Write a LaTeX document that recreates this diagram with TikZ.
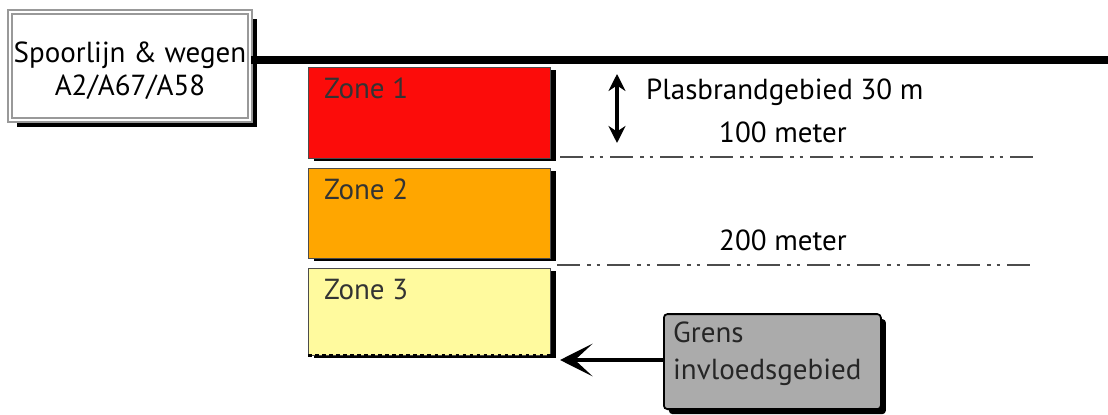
\documentclass[tikz,border=0pt]{standalone}
\usepackage{fontspec}
\setmainfont{PT Sans}
\usetikzlibrary{arrows.meta,shadows}
\definecolor{zonered}{RGB}{252,12,10}
\definecolor{zoneorange}{RGB}{255,166,0}
\definecolor{zoneyellow}{RGB}{255,250,158}

\begin{document}
\begin{tikzpicture}[font=\fontsize{16.5}{19}\selectfont,
  zone/.style={draw=black!70,anchor=north west,inner sep=0,minimum width=4.84cm,
    drop shadow={shadow xshift=0.12cm,shadow yshift=-0.06cm,opacity=1,fill=black}},
  zonelabel/.style={anchor=north west,text=black!80},
  grid/.style={black!70,line width=1.2pt,
    dash pattern=on 0.46cm off 0.14cm on 0.07cm off 0.12cm on 0.07cm off 0.14cm}]
  \useasboundingbox (0,0) rectangle (22.16,8.28);
  % road / rail box
  \node[draw=gray!80,double=white,double distance=1pt,line width=1pt,fill=white,
    minimum width=4.8cm,minimum height=2.16cm,align=center,inner sep=1pt,
    drop shadow={shadow xshift=0.14cm,shadow yshift=-0.14cm,opacity=1,fill=black}]
    (road) at (2.6,6.96) {};
  \node[align=center,inner sep=0] (roadtxt) at ([yshift=-0.1cm]road.center) {Spoorlijn \& wegen\\A2/A67/A58};
  % zones
  \node[zone,fill=zonered,minimum height=1.82cm] (z1) at (6.16,6.94) {};
  \node[zone,fill=zoneorange,minimum height=1.8cm] (z2) at (6.16,4.92) {};
  \node[zone,fill=zoneyellow,minimum height=1.74cm] (z3) at (6.16,2.92) {};
  \draw[line width=2pt,dotted] (z3.south west) -- (z3.south east);
  \foreach \z/\t in {z1/Zone 1,z2/Zone 2,z3/Zone 3}
    \node[zonelabel] (l\z) at ([xshift=0.2cm,yshift=-0.1cm]\z.north west) {\t};
  % road line
  \coordinate (roadend) at (22.16,7.08);
  \draw[line width=4.5pt] (road.east |- roadend) -- (roadend);
  % pool fire distance
  \coordinate (pt) at (12.34,6.8);
  \coordinate (pb) at (12.34,5.42);
  \draw[line width=1.8pt,{Stealth[length=0.34cm,width=0.34cm]}-{Stealth[length=0.34cm,width=0.34cm]}] (pt) -- (pb);
  \node[anchor=west] (pool) at (12.8,6.44) {Plasbrandgebied 30 m};
  % distance lines
  \node (m100) at (15.66,5.64) {100 meter};
  \node (m200) at (15.66,3.48) {200 meter};
  \coordinate (d1a) at (11.2,5.14); \coordinate (d1b) at (20.8,5.14);
  \coordinate (d2a) at (11.14,2.98); \coordinate (d2b) at (20.7,2.98);
  \draw[grid] (d1a) -- (d1b);
  \draw[grid] (d2a) -- (d2b);
  % boundary
  \node[draw,line width=1pt,fill=gray!66,rounded corners=2pt,anchor=south west,
    minimum width=4.34cm,minimum height=1.9cm,
    drop shadow={shadow xshift=0.1cm,shadow yshift=-0.1cm,opacity=1,fill=black}]
    (grens) at (13.26,0.08) {};
  \node[anchor=north west,align=left,font=\fontsize{16.5}{21}\selectfont,text=black!85]
    (grenstxt) at (13.34,1.96) {Grens\\invloedsgebied};
  \coordinate (gtip) at (11.2,1.08);
  \draw[line width=2.2pt,-{Stealth[length=0.65cm,width=0.65cm,inset=0.35cm]}]
    (grens.west |- gtip) -- (gtip);
\end{tikzpicture}
\end{document}
